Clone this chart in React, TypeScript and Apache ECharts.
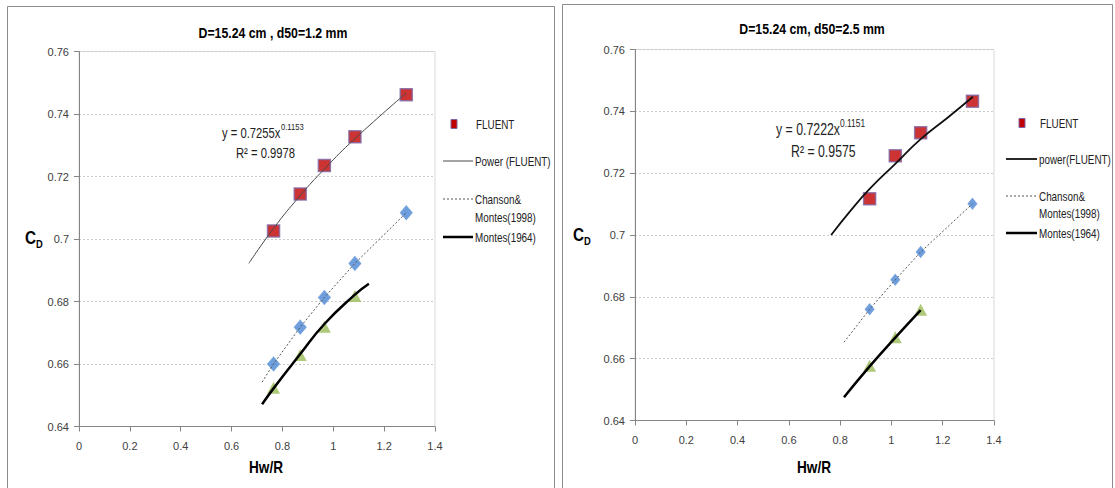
import React, { useEffect, useRef } from "react";
import * as echarts from "echarts";

// ---------- data ----------
const xTicks = [0, 0.2, 0.4, 0.6, 0.8, 1, 1.2, 1.4];
const yTicks = [0.64, 0.66, 0.68, 0.7, 0.72, 0.74, 0.76];

// left chart: D=15.24 cm, d50=1.2 mm
const leftX = [0.765, 0.87, 0.965, 1.085, 1.287];
const leftFluent = [0.7026, 0.7144, 0.7235, 0.7327, 0.7462];
const leftChanson = [0.66, 0.6718, 0.6813, 0.6922, 0.7084];
const leftMontesX = [0.765, 0.87, 0.965, 1.085];
const leftMontes = [0.6524, 0.6629, 0.6719, 0.6818];
const leftPowerLine = [[0.668, 0.6922], [0.765, 0.7034], [0.87, 0.7139], [0.965, 0.7224], [1.085, 0.7321], [1.287, 0.7467]];
const leftChansonLine = [[0.72, 0.6542], [0.765, 0.66], [0.87, 0.6718], [0.965, 0.6813], [1.085, 0.6922], [1.287, 0.7084]];
const leftMontesLine = [[0.72, 0.6471], [0.765, 0.6522], [0.87, 0.6632], [0.965, 0.6728], [1.085, 0.6822], [1.14, 0.6857]];

// right chart: D=15.24 cm, d50=2.5 mm
const rightX = [0.915, 1.015, 1.114, 1.316];
const rightFluent = [0.7117, 0.7256, 0.7331, 0.7433];
const rightChanson = [0.676, 0.6855, 0.6945, 0.7101];
const rightMontesX = [0.915, 1.015, 1.114];
const rightMontes = [0.6577, 0.6669, 0.6758];
const rightPowerLine = [[0.765, 0.7], [0.84, 0.7078], [0.915, 0.7149], [1.015, 0.723], [1.114, 0.731], [1.22, 0.738], [1.318, 0.7447]];
const rightChansonLine = [[0.815, 0.6653], [0.915, 0.676], [1.015, 0.6855], [1.114, 0.6945], [1.316, 0.7101]];
const rightMontesLine = [[0.815, 0.6475], [0.915, 0.6575], [1.015, 0.6668], [1.114, 0.6757]];

const titles = ["D=15.24 cm , d50=1.2 mm", "D=15.24 cm, d50=2.5 mm"];
const legendNames = [
  ["FLUENT", "Power (FLUENT)", "Chanson&", "Montes(1998)", "Montes(1964)"],
  ["FLUENT", "power(FLUENT)", "Chanson&", "Montes(1998)", "Montes(1964)"],
];
const equations = [
  ["y = 0.7255x", "0.1153", "R² = 0.9978"],
  ["y = 0.7222x", "0.1151", "R² = 0.9575"],
];

const FONT = "'Liberation Sans', Arial, sans-serif";
const NARROW = 0.8;

export default function App() {
  const ref = useRef<HTMLDivElement>(null);
  useEffect(() => {
    if (!ref.current) return;
    const chart = echarts.init(ref.current, null, { renderer: "svg" });

    const grids = [
      { left: 79, top: 51.5, width: 356, height: 375 },
      { left: 635, top: 49.5, width: 359, height: 371 },
    ];

    const xAxis = grids.map((_, i) => ({
      type: "value",
      gridIndex: i,
      min: 0,
      max: 1.4,
      interval: 0.2,
      axisLine: { show: true, lineStyle: { color: "#868686", width: 1 } },
      axisTick: { show: true, inside: false, length: 5, lineStyle: { color: "#868686" } },
      axisLabel: { color: "#404040", fontSize: 11, fontFamily: FONT, margin: 14 },
      splitLine: { show: false },
    }));
    const yAxis = grids.map((_, i) => ({
      type: "value",
      gridIndex: i,
      min: 0.64,
      max: 0.76,
      interval: 0.02,
      axisLine: { show: true, lineStyle: { color: "#868686", width: 1 } },
      axisTick: { show: true, inside: false, length: 5, lineStyle: { color: "#868686" } },
      axisLabel: { color: "#404040", fontSize: 11, fontFamily: FONT, margin: 10 },
      splitLine: { show: true, lineStyle: { color: "#cccccc", type: [2, 2], width: 1 } },
    }));

    const sets = [
      { x: leftX, fl: leftFluent, ch: leftChanson, mx: leftMontesX, mo: leftMontes, pl: leftPowerLine, cl: leftChansonLine, ml: leftMontesLine, powW: 1, powC: "#4a4a4a", dia: 12 },
      { x: rightX, fl: rightFluent, ch: rightChanson, mx: rightMontesX, mo: rightMontes, pl: rightPowerLine, cl: rightChansonLine, ml: rightMontesLine, powW: 1.8, powC: "#111111", dia: 9 },
    ];

    const series: any[] = [];
    sets.forEach((s, i) => {
      series.push({
        type: "scatter", xAxisIndex: i, yAxisIndex: i, z: 2,
        symbol: "diamond", symbolSize: [s.dia, s.dia + 2],
        itemStyle: { color: "#4a86d4", borderColor: "#6f9fdc", borderWidth: 1 },
        data: s.x.map((x, k) => [x, s.ch[k]]),
      });
      series.push({
        type: "scatter", xAxisIndex: i, yAxisIndex: i, z: 2,
        symbol: "triangle", symbolSize: [13, 12],
        itemStyle: { color: "#9bbb59" },
        data: s.mx.map((x, k) => [x, s.mo[k]]),
      });
      series.push({
        type: "scatter", xAxisIndex: i, yAxisIndex: i, z: 2,
        symbol: "rect", symbolSize: 12,
        itemStyle: { color: "#c00000", borderColor: "#8064a2", borderWidth: 1.5 },
        data: s.x.map((x, k) => [x, s.fl[k]]),
      });
      series.push({
        type: "line", xAxisIndex: i, yAxisIndex: i, z: 3, showSymbol: false, smooth: true,
        lineStyle: { color: s.powC, width: s.powW },
        data: s.pl,
      });
      series.push({
        type: "line", xAxisIndex: i, yAxisIndex: i, z: 3, showSymbol: false,
        lineStyle: { color: "#555555", width: 1, type: [2, 2] },
        data: s.cl,
      });
      series.push({
        type: "line", xAxisIndex: i, yAxisIndex: i, z: 3, showSymbol: false, smooth: true,
        lineStyle: { color: "#000000", width: 2.5 },
        data: s.ml,
      });
    });

    const graphic: any[] = [];
    // frames
    graphic.push({ type: "rect", shape: { x: 7.5, y: 6.5, width: 547, height: 490 }, style: { fill: "none", stroke: "#8c8c8c", lineWidth: 1 } });
    graphic.push({ type: "rect", shape: { x: 562.5, y: 4.5, width: 550, height: 490 }, style: { fill: "none", stroke: "#8c8c8c", lineWidth: 1 } });

    const txt = (x: number, y: number, style: any, sx = NARROW) => ({
      type: "text", x, y, scaleX: sx,
      style: { fontFamily: FONT, fill: "#000", verticalAlign: "middle", align: "left", ...style },
    });

    const layout = [
      { titleX: 273, titleY: 33, hwX: 266, hwY: 468, cdX: 34, cdY: 238, eqX: 222, eqY: 133, rX: 236, rY: 153, eqSize: 15, eqSx: 0.75, supSize: 9.5, supDx: 59,
        lg: { mx: 454, tx: 476, lx0: 443, lx1: 473, y: [124, 161, 199, 217, 237] } },
      { titleX: 812, titleY: 29, hwX: 814, hwY: 468, cdX: 582, cdY: 235, eqX: 776, eqY: 129, rX: 791, rY: 151, eqSize: 16, eqSx: 0.77, supSize: 10.5, supDx: 64,
        lg: { mx: 1022, tx: 1040, lx0: 1006, lx1: 1037, y: [123, 159, 196, 213, 233] } },
    ];

    layout.forEach((L, i) => {
      graphic.push(txt(L.titleX, L.titleY, { text: titles[i], fontSize: 15, fontWeight: "bold", align: "center" }, 0.82));
      graphic.push(txt(L.hwX, L.hwY, { text: "Hw/R", fontSize: 16, fontWeight: "bold", align: "center" }, 0.85));
      graphic.push(txt(L.cdX - 9, L.cdY, { text: "C", fontSize: 18, fontWeight: "bold" }, 0.85));
      graphic.push(txt(L.cdX + 2, L.cdY + 6, { text: "D", fontSize: 11, fontWeight: "bold" }, 0.85));
      // equation
      graphic.push(txt(L.eqX, L.eqY, { text: equations[i][0], fontSize: L.eqSize, fill: "#222" }, L.eqSx));
      graphic.push(txt(L.eqX + L.supDx, L.eqY - 6, { text: equations[i][1], fontSize: L.supSize, fill: "#222" }));
      graphic.push(txt(L.rX, L.rY, { text: equations[i][2], fontSize: L.eqSize, fill: "#222" }, L.eqSx));
      // legend
      const g = L.lg;
      graphic.push({ type: "rect", shape: { x: g.mx - 3, y: g.y[0] - 4.5, width: 6, height: 9 }, style: { fill: "#c00000", stroke: "#8064a2", lineWidth: 1 } });
      graphic.push({ type: "line", shape: { x1: g.lx0, y1: g.y[1], x2: g.lx1, y2: g.y[1] }, style: { stroke: i === 0 ? "#4a4a4a" : "#111", lineWidth: i === 0 ? 1 : 1.8 } });
      graphic.push({ type: "line", shape: { x1: g.lx0, y1: g.y[2], x2: g.lx1, y2: g.y[2] }, style: { stroke: "#555", lineWidth: 1, lineDash: [2, 2] } });
      graphic.push({ type: "line", shape: { x1: g.lx0, y1: g.y[4], x2: g.lx1, y2: g.y[4] }, style: { stroke: "#000", lineWidth: 2.5 } });
      legendNames[i].forEach((name, k) => {
        graphic.push(txt(k === 0 ? g.tx : g.lx1 + 2, g.y[k], { text: name, fontSize: 13, fill: "#222" }, 0.76));
      });
    });

    chart.setOption({
      animation: false,
      backgroundColor: "#ffffff",
      grid: grids.map((g) => ({ ...g, show: true, borderColor: "#d9d9d9", borderWidth: 1, backgroundColor: "transparent" })),
      xAxis,
      yAxis,
      series,
      graphic,
    } as any);

    return () => chart.dispose();
  }, []);

  return <div ref={ref} style={{ position: "absolute", left: 0, top: 0, width: 1115, height: 488 }} />;
}
